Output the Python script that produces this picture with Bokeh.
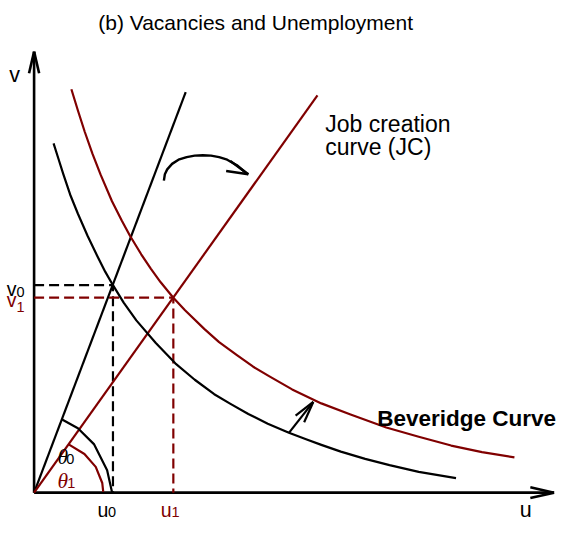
import math
from bokeh.plotting import figure
from bokeh.models import Range1d
from bokeh.core.properties import value
from bokeh.embed import file_html
from bokeh.resources import INLINE

# ---------------- data (u = unemployment, v = vacancies; schematic units) ----------------
JC0_U = [0, 155.7]
JC0_V = [0, 415.0]
JC1_U = [0, 291.0]
JC1_V = [0, 411.7]

BC0_U = [20, 25, 30, 37, 45, 55, 65, 73, 81, 92, 105, 125, 145, 165, 185, 201.7,
         220, 240, 261.7, 280, 295, 315, 340, 365, 395, 433.3]
BC0_V = [362, 346, 330, 309, 289, 266, 245, 229, 215, 197, 178.5, 155, 134, 117, 102, 92,
         81.5, 71.5, 62, 55, 49.5, 42.5, 35, 28.5, 21.5, 15]

BC1_U = [38.3, 45, 52, 60, 68.3, 80, 90, 98.3, 110, 120, 130, 143, 155, 175, 190, 208.3,
         225, 241.7, 265, 295, 325, 361.7, 395, 428.3, 460, 493.3]
BC1_V = [418, 396, 374, 351, 329.5, 302, 282, 266.5, 247, 232, 218, 202, 189, 169.5, 156, 142.5,
         130.5, 120.5, 107, 92.5, 81, 67.5, 58, 48.8, 42, 36.5]

U0, V0 = 81, 215
U1, V1 = 143, 202

ARC0_U = [28.3, 45, 61.7, 75, 80]
ARC0_V = [76, 66.7, 50, 23.3, 0.7]
ARC1_U = [35.5, 51.7, 63.3, 70, 71]
ARC1_V = [50, 40, 26.7, 10, 0.7]

SHIFT_U = [133.3, 134.3, 136.7, 141.7, 148.3, 156.7, 165, 173.3, 181.7, 190, 198.3, 208.3, 218.3, 220]
SHIFT_V = [323.3, 330, 335, 340.7, 345, 347.7, 349.3, 349.7, 349.3, 347.7, 345, 339.3, 330.7, 330]

BCSHIFT_U = [261.7, 286.7]
BCSHIFT_V = [62, 94]

AXIS_U_MAX = 534
AXIS_V_MAX = 457

BLACK = "#000000"
RED = "#800000"
SANS = value("Liberation Sans")
SERIF = value("Liberation Serif")

# ---------------- figure ----------------
p = figure(width=556, height=524, output_backend="svg", toolbar_location=None,
           x_axis_location=None, y_axis_location=None, min_border=0,
           x_range=Range1d(-34.5, 536.5), y_range=Range1d(-33, 510))
p.outline_line_color = None
p.grid.visible = False
p.background_fill_color = "white"


def head(us, vs, color, L=23.0, ang=14.0, lw=2.2):
    tu, tv = us[-1], vs[-1]
    fu, fv = us[-2], vs[-2]
    du, dv = tu - fu, tv - fv
    n = math.hypot(du, dv)
    du, dv = du / n, dv / n
    a = math.radians(ang)
    xs, ys = [], []
    for s in (a, -a):
        bu = -du * math.cos(s) + dv * math.sin(s)
        bv = -dv * math.cos(s) - du * math.sin(s)
        xs.append([tu + L * bu, tu])
        ys.append([tv + L * bv, tv])
    p.multi_line(xs, ys, line_color=color, line_width=lw)


# axes
p.line([0, 0], [0, AXIS_V_MAX], line_color=BLACK, line_width=2.6)
head([0, 0], [0, AXIS_V_MAX], BLACK, L=23, ang=13, lw=2.6)
p.line([0, AXIS_U_MAX], [0, 0], line_color=BLACK, line_width=2.6)
head([0, AXIS_U_MAX], [0, 0], BLACK, L=25, ang=13, lw=2.6)

# dashed guides
p.line([0, U0, U0], [V0, V0, 0], line_color=BLACK, line_width=2.2, line_dash="10 5")
p.line([0, U1, U1], [V1, V1, 0], line_color=RED, line_width=2.2, line_dash="10 5")

# job creation lines
p.line(JC0_U, JC0_V, line_color=BLACK, line_width=2.2)
p.line(JC1_U, JC1_V, line_color=RED, line_width=2.2)

# Beveridge curves
p.line(BC0_U, BC0_V, line_color=BLACK, line_width=2.2, line_join="round")
p.line(BC1_U, BC1_V, line_color=RED, line_width=2.2, line_join="round")

# angle arcs
p.line(ARC0_U, ARC0_V, line_color=BLACK, line_width=2.2)
p.line(ARC1_U, ARC1_V, line_color=RED, line_width=2.2)

# shift arrows
p.line(SHIFT_U, SHIFT_V, line_color=BLACK, line_width=2.4, line_join="round")
head(SHIFT_U, SHIFT_V, BLACK, L=23, ang=14, lw=2.4)
p.line(BCSHIFT_U, BCSHIFT_V, line_color=BLACK, line_width=2.2)
head(BCSHIFT_U, BCSHIFT_V, BLACK, L=23, ang=14, lw=2.2)

# ---------------- texts ----------------
def txt(x, y, s, size, color=BLACK, font=SANS, align="left", style="normal"):
    p.text(x=[x], y=[y], text=[s], text_font=font, text_font_size=size,
           text_color=color, text_align=align, text_baseline="alphabetic",
           text_font_style=style)

txt(227.5, 487.7, "(b) Vacancies and Unemployment", "21px", align="center")
txt(-20, 433, "v", "21.5px", align="center")
txt(505, -18, "u", "21.5px", align="center")

txt(-28, 211, "v", "19.5px")
txt(-18, 208, "0", "14.5px")
txt(-28, 200, "v", "19.5px", color=RED)
txt(-18, 192, "1", "14.5px", color=RED)

txt(65, -18, "u", "19.5px")
txt(76, -20, "0", "14.5px")
txt(130, -18, "u", "19.5px", color=RED)
txt(141, -20, "1", "14.5px", color=RED)

txt(24, 37, "θ", "21.5px", font=SERIF, style="italic")
txt(33, 35, "0", "14.5px")
txt(24, 12, "θ", "21.5px", color=RED, font=SERIF, style="italic")
txt(34, 10, "1", "14.5px", color=RED)

txt(299, 382, "Job creation", "23px")
txt(299, 358, "curve (JC)", "23px")
txt(536, 77, "Beveridge Curve", "22.5px", align="right", style="bold")

open("out.html", "w").write(file_html(p, INLINE))
